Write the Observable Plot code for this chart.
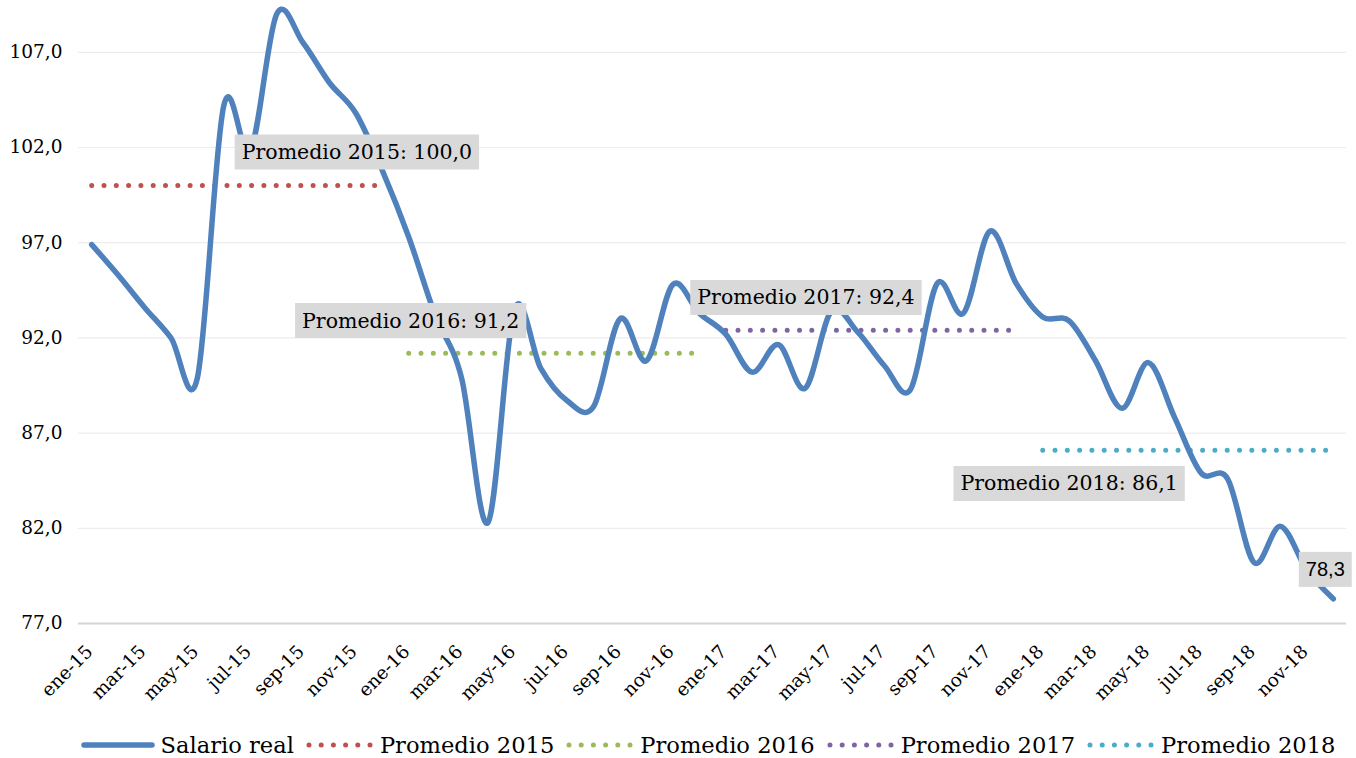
<!DOCTYPE html>
<html><head><meta charset="utf-8">
<script src="https://cdn.jsdelivr.net/npm/d3@7"></script>
<script src="https://cdn.jsdelivr.net/npm/@observablehq/plot@0.6"></script>
<style>
html,body{margin:0;padding:0;background:#fff;overflow:hidden;}
#wrap{position:relative;width:1356px;height:758px;}
#legend{position:absolute;left:0;top:728px;width:1356px;height:34px;box-sizing:border-box;padding-left:70px;padding-right:10px;display:flex;justify-content:center;align-items:center;font-family:"DejaVu Serif";font-size:22.6px;color:#000;}
.item{display:flex;align-items:center;margin:0 6px;}
.item svg{margin-right:6px;}
</style></head><body>
<div id="wrap"><div id="chart"></div><div id="legend"></div></div>
<script>
const meses = ["ene","feb","mar","abr","may","jun","jul","ago","sep","oct","nov","dic"];
const anios = ["15","16","17","18"];
const salario2015 = [96.9, 95.3, 93.6, 92.0, 89.9, 104.2, 101.8, 109.0, 107.5, 105.4, 103.8, 100.8];
const salario2016 = [97.3, 93.2, 89.9, 82.3, 93.5, 90.4, 88.7, 88.4, 93.0, 90.8, 94.8, 93.3];
const salario2017 = [92.2, 90.2, 91.65, 89.35, 93.4, 92.3, 90.55, 89.3, 94.85, 93.3, 97.6, 94.85];
const salario2018 = [93.1, 92.9, 90.8, 88.3, 90.7, 87.8, 84.9, 84.6, 80.2, 82.1, 79.8, 78.3];
const promedios = [100.0, 91.2, 92.4, 86.1];
const coloresProm = ["#C0504D", "#9BBB59", "#8064A2", "#4BACC6"];
const yTicks = [77, 82, 87, 92, 97, 102, 107];

const etiquetasMes = anios.flatMap(a => meses.map(m => `${m}-${a}`));
const salarios = [salario2015, salario2016, salario2017, salario2018];
const serie = salarios.flatMap((vals, k) => vals.map((v, j) => ({mes: `${meses[j]}-${anios[k]}`, valor: v})));
const fmt = v => v.toFixed(1).replace(".", ",");

const promLines = promedios.map((p, k) => Plot.lineY(meses.map(m => ({mes: `${m}-${anios[k]}`, valor: p})), {
  x: "mes", y: "valor", stroke: coloresProm[k], strokeWidth: 5, strokeDasharray: "0 12.3", strokeLinecap: "round"
}));

// annotation anchors (data space)
const notas = [
  {mes: "nov-15", valor: 101.74, texto: `Promedio 2015: ${fmt(promedios[0])}`, dx: 1},
  {mes: "ene-16", valor: 92.89, texto: `Promedio 2016: ${fmt(promedios[1])}`, dx: 2},
  {mes: "abr-17", valor: 94.10, texto: `Promedio 2017: ${fmt(promedios[2])}`, dx: 1},
  {mes: "feb-18", valor: 84.33, texto: `Promedio 2018: ${fmt(promedios[3])}`, dx: 0}
];
const ultimo = serie[serie.length - 1];

const chart = Plot.plot({
  width: 1356, height: 715,
  marginTop: 0, marginLeft: 78, marginRight: 10, marginBottom: 92,
  style: {fontFamily: "DejaVu Serif", fontSize: "18px", color: "#000", background: "#fff"},
  x: {type: "point", domain: etiquetasMes, padding: 0.5, round: false},
  y: {domain: [77, 109.72]},
  marks: [
    Plot.ruleY(yTicks.slice(1), {stroke: "#EDEDED", strokeWidth: 1.2}),
    Plot.ruleY([77], {stroke: "#D4D4D4", strokeWidth: 1.8}),
    Plot.axisY({ticks: yTicks, tickSize: 0, tickPadding: 16, tickFormat: fmt, label: null, fontSize: 18.5}),
    Plot.axisX({ticks: etiquetasMes.filter((d, i) => i % 2 === 0), tickSize: 0, tickRotate: -45, tickPadding: 8, dx: -2, dy: 17, label: null, fontSize: 18.5}),
    ...promLines,
    Plot.lineY(serie, {x: "mes", y: "valor", stroke: "#4F81BD", strokeWidth: 5.5, curve: "cardinal", strokeLinecap: "round", strokeLinejoin: "round"}),
    ...notas.map(n => Plot.text([n], {x: "mes", y: "valor", text: "texto", dx: n.dx, fill: "#000", fontSize: 20.5, textAnchor: "middle", lineAnchor: "middle"})),
    Plot.text([ultimo], {x: "mes", y: () => 79.81, text: d => fmt(d.valor), dx: -8, fill: "#000", fontSize: 20, fontFamily: "Liberation Sans", textAnchor: "middle", lineAnchor: "middle"})
  ]
});
document.getElementById("chart").append(chart);

const svgNS = "http://www.w3.org/2000/svg";
chart.querySelectorAll('g[aria-label="text"] text').forEach(t => {
  const b = t.getBBox();
  const r = document.createElementNS(svgNS, "rect");
  const px = 7, h = 35;
  r.setAttribute("x", b.x - px);
  r.setAttribute("width", b.width + 2 * px);
  r.setAttribute("y", b.y + b.height / 2 - h / 2);
  r.setAttribute("height", h);
  r.setAttribute("fill", "#D9D9D9");
  const tr = t.getAttribute("transform");
  if (tr) r.setAttribute("transform", tr);
  t.parentNode.insertBefore(r, t);
});

// legend
const leg = document.getElementById("legend");
const items = [{nombre: "Salario real", color: "#4F81BD", tipo: "linea"}]
  .concat(promedios.map((p, k) => ({nombre: `Promedio 20${anios[k]}`, color: coloresProm[k], tipo: "puntos"})));
items.forEach(it => {
  const d = document.createElement("div");
  d.className = "item";
  const w = it.tipo === "linea" ? 74 : 68;
  const s = document.createElementNS(svgNS, "svg");
  s.setAttribute("width", w); s.setAttribute("height", 10);
  const l = document.createElementNS(svgNS, "line");
  l.setAttribute("x1", 3); l.setAttribute("x2", w - 3);
  l.setAttribute("y1", 5); l.setAttribute("y2", 5);
  l.setAttribute("stroke", it.color);
  l.setAttribute("stroke-linecap", "round");
  if (it.tipo === "linea") { l.setAttribute("stroke-width", 5.5); }
  else { l.setAttribute("stroke-width", 5); l.setAttribute("stroke-dasharray", "0 12.2"); }
  s.append(l);
  const sp = document.createElement("span");
  sp.textContent = it.nombre;
  d.append(s, sp);
  leg.append(d);
});
</script>
</body></html>
